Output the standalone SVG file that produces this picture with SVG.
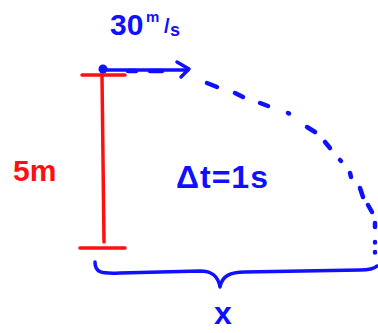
<svg xmlns="http://www.w3.org/2000/svg" width="378" height="333" viewBox="0 0 378 333">
<style>
.red{stroke:#ff1010;stroke-width:3.5;fill:none;stroke-linecap:round}
.blue{stroke:#1010ff;stroke-width:3.5;fill:none;stroke-linecap:round;stroke-linejoin:round}
.dash{stroke:#1010ff;stroke-width:4.5;fill:none;stroke-linecap:round}
.tb{fill:#1010ff;font-family:"Liberation Sans",Arial,sans-serif;font-weight:bold}
.tr{fill:#ff1010;font-family:"Liberation Sans",Arial,sans-serif;font-weight:bold}
</style>
<rect width="378" height="333" fill="#ffffff"/>
<g id="cliff">
<line class="red" x1="82" y1="75" x2="125" y2="75"/>
<line class="red" x1="102" y1="75" x2="104" y2="242"/>
<line class="red" x1="80" y1="248" x2="125" y2="248"/>
</g>
<g id="label-height">
<text class="tr" x="13" y="181" font-size="30">5m</text>
</g>
<g id="velocity">
<circle cx="103" cy="69" r="4.5" fill="#1010ff"/>
<line class="blue" x1="103" y1="70" x2="187" y2="70" stroke-width="2.5"/>
<line class="dash" x1="128" y1="71" x2="136" y2="71"/>
<line class="dash" x1="150" y1="71" x2="162" y2="71"/>
<polyline class="blue" points="177,62 189,69 181,77"/>
<text class="tb" x="110" y="35" font-size="30">30</text>
<text class="tb" x="146" y="22" font-size="15">m</text>
<text class="tb" x="164" y="33" font-size="20">/</text>
<text class="tb" x="170" y="36" font-size="18">s</text>
</g>
<g id="trajectory">
<path class="dash" d="M207,83 L217,87 M235,93 L243,97 M260,103 L268,106 M288,113 L289,113.5 M307,127 L315,132 M325,142 L330,148 M340,160 L341,161 M350,173 L351,177 M360,188 L363,197 M368,205 L372,212 M375,223 L375,227 M375,242 L375,242.5 M375,252 L375,252.5"/>
</g>
<g id="label-time">
<text class="tb" x="176" y="188" font-size="32" letter-spacing="1">Δt=1s</text>
</g>
<g id="distance">
<path class="blue" d="M95,262 C95,272 100,274 120,273 L200,271 C212,271 218,276 220,287 C222,276 230,272 245,272 L360,270 C370,270 375,268 377,266"/>
<text class="tb" x="214" y="324" font-size="32">x</text>
</g>
</svg>
